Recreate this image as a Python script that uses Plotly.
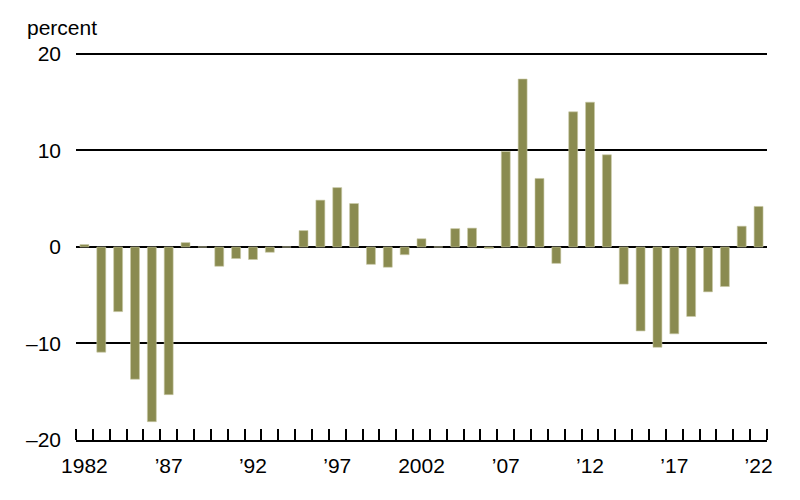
import plotly.graph_objects as go

years = list(range(1982, 2023))
values = [0.25, -10.9, -6.7, -13.7, -18.1, -15.3, 0.45, 0.0, -2.0, -1.2,
          -1.3, -0.55, 0.0, 1.7, 4.85, 6.15, 4.5, -1.8, -2.1, -0.8,
          0.85, 0.0, 1.9, 1.95, -0.15, 9.9, 17.4, 7.1, -1.7, 14.0,
          15.0, 9.55, -3.85, -8.7, -10.4, -9.0, -7.2, -4.65, -4.1, 2.15,
          4.2]

x_tickvals = [1982, 1987, 1992, 1997, 2002, 2007, 2012, 2017, 2022]
x_ticktext = ["1982", "\u201987", "\u201992", "\u201997", "2002",
              "\u201907", "\u201912", "\u201917", "\u201922"]
y_tickvals = [-20, -10, 0, 10, 20]
y_ticktext = ["\u201320", "\u201310", "0", "10", "20"]

fig = go.Figure(go.Bar(
    x=years,
    y=values,
    marker=dict(color="#8a8b50", line=dict(color="#c9caa6", width=0.6)),
))

# the page body adds an 8px offset, so margins are shifted to compensate
fig.update_layout(
    width=800,
    height=500,
    margin=dict(l=68, r=41, t=44, b=68),
    paper_bgcolor="white",
    plot_bgcolor="white",
    bargap=0.47,
    showlegend=False,
    font=dict(family="Liberation Sans, Arial, sans-serif", size=21, color="black"),
    annotations=[dict(text="percent", xref="paper", yref="paper", x=-0.074, y=1.062,
                      xanchor="left", yanchor="middle", showarrow=False,
                      font=dict(size=21))],
)

fig.update_xaxes(
    range=[1981.5, 2022.5],
    tickvals=x_tickvals,
    ticktext=x_ticktext,
    ticks="",
    showgrid=False,
    zeroline=False,
    showline=True,
    linecolor="black",
    linewidth=2,
    ticklabelstandoff=6,
    minor=dict(tick0=1981.5, dtick=1, ticks="inside", ticklen=11,
               tickcolor="black", tickwidth=2, showgrid=False),
)

fig.update_yaxes(
    range=[-20, 20.2],
    tickvals=y_tickvals,
    ticktext=y_ticktext,
    showgrid=True,
    gridcolor="black",
    gridwidth=2,
    zeroline=True,
    zerolinecolor="black",
    zerolinewidth=2,
    ticks="",
    ticklabelstandoff=14,
)

fig.write_html("out.html")
